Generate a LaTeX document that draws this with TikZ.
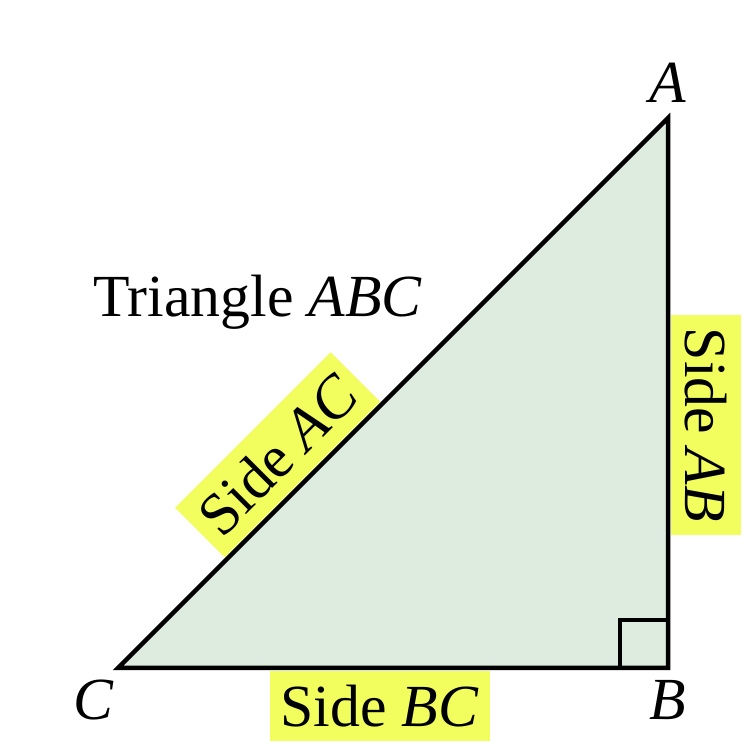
\documentclass[tikz,border=0pt]{standalone}
\usepackage{fontspec}
\setmainfont{Liberation Serif}
\usepackage{tikz}
\definecolor{trifill}{RGB}{222, 235, 223}
\definecolor{markyellow}{RGB}{242, 253, 94}
\usetikzlibrary{positioning}
\tikzstyle{sidebox} = [rectangle, fill=markyellow, minimum width=4.4cm,
    minimum height=1.4cm, inner sep=0pt, outer sep=0.06cm, font=\fontsize{34}{40}\selectfont]
\tikzstyle{vlabel} = [inner sep=0pt, font=\fontsize{34}{40}\selectfont\itshape]
\tikzstyle{edge} = [draw, line width=0.09cm]

\begin{document}
\begin{tikzpicture}
  \useasboundingbox (0,0) rectangle (15,15);
  \coordinate (C) at (2.36,1.64);
  \coordinate (B) at (13.36,1.64);
  \coordinate (A) at (13.36,12.64);
  \path [edge, fill=trifill] (C) -- (B) -- (A) -- cycle;
  \path [edge] ([xshift=-0.96cm]B) |- ([yshift=0.96cm]B);
  \node [vlabel, above=0.3cm of A] (label_a) {A};
  \node [vlabel, below=0.24cm of B] (label_b) {B};
  \node [vlabel, below left=0.24cm and 0.08cm of C] (label_c) {C};
  \path (C) -- node [sidebox, pos=0.476, below] (side_bc) {Side \textit{BC}} (B);
  \path (A) -- node [sidebox, pos=0.558, sloped, above] (side_ab) {Side \textit{AB}} (B);
  \path (C) -- node [sidebox, pos=0.339, sloped, above] (side_ac) {Side \textit{AC}} (A);
  \node [anchor=base west, inner sep=0pt, font=\fontsize{34}{40}\selectfont] (title) at (1.86,8.66) {Triangle \textit{ABC}};
\end{tikzpicture}
\end{document}
